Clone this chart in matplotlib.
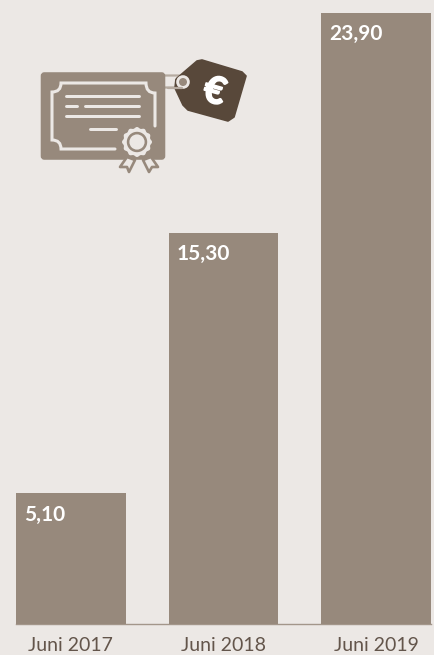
import numpy as np
import matplotlib
matplotlib.use("Agg")
import matplotlib.pyplot as plt
import matplotlib.patheffects as pe
from matplotlib.patches import Circle, FancyBboxPatch, PathPatch, Polygon
from matplotlib.path import Path

categories = ["Juni 2017", "Juni 2018", "Juni 2019"]
values = [5.10, 15.30, 23.90]
value_labels = ["5,10", "15,30", "23,90"]

BG = "#ece8e5"
BAR = "#97897c"
DARK = "#58483a"
TEXT = "#63554b"
STRING = "#b5aaa0"

plt.rcParams["font.family"] = ["Lato", "DejaVu Sans"]

W, H = 435, 655
fig = plt.figure(figsize=(W / 100, H / 100), dpi=100, facecolor=BG)

# bar area: 16..431 px wide, baseline near y=624, top bar reaches y=13
ax = fig.add_axes([16 / W, (H - 623.8) / H, 415 / W, 610.8 / H])
ax.set_facecolor("none")
x = np.arange(len(values))
ax.bar(x, values, width=0.72, color=BAR, linewidth=0, zorder=3)
ax.set_xlim(-0.36, 2.36)
ax.set_ylim(0, max(values))
for s in ["top", "left", "right"]:
    ax.spines[s].set_visible(False)
ax.spines["bottom"].set_color("#a3968a")
ax.spines["bottom"].set_linewidth(1.0)
ax.yaxis.set_visible(False)
ax.set_xticks(x, categories)
ax.tick_params(axis="x", length=0, pad=9.5, labelsize=14, labelcolor=TEXT)

for xi, v, lab in zip(x, values, value_labels):
    ax.annotate(lab, (xi - 0.36, v), xytext=(5.8, -8.2), textcoords="offset points",
                color="white", fontsize=15, fontweight="bold", ha="left", va="top", zorder=4)

# certificate + price tag icon, in pixel coordinates
ic = fig.add_axes([0, 0, 1, 1])
ic.set_xlim(0, W)
ic.set_ylim(H, 0)
ic.axis("off")
ic.patch.set_alpha(0)


def stroke(points, lw=3.0, color=BG):
    xs, ys = zip(*points)
    ic.plot(xs, ys, color=color, lw=lw * 0.72, solid_capstyle="round", solid_joinstyle="round")


# string loop between certificate and tag
ic.add_patch(FancyBboxPatch((160, 75.5), 22, 12, boxstyle="round,pad=0,rounding_size=4",
                            fc="none", ec=STRING, lw=1.6))

ic.add_patch(FancyBboxPatch((43.5, 75), 119, 82, boxstyle="round,pad=0,rounding_size=1",
                            mutation_aspect=1, fc=BAR, ec=BAR, lw=4))

# scalloped frame
frame = Path(
    [(155, 126), (155, 93), (146, 93), (146, 83), (61, 83), (61, 92), (52, 92),
     (52, 140), (61, 140), (61, 149), (115, 149)],
    [Path.MOVETO, Path.LINETO, Path.CURVE3, Path.CURVE3, Path.LINETO, Path.CURVE3, Path.CURVE3,
     Path.LINETO, Path.CURVE3, Path.CURVE3, Path.LINETO],
)
ic.add_patch(PathPatch(frame, fc="none", ec=BG, lw=2.2, capstyle="round"))

stroke([(66.5, 96), (139, 96)])
stroke([(66.5, 106), (77, 106)])
stroke([(85, 106), (139, 106)])
stroke([(66.5, 116), (139, 116)])
stroke([(90, 129), (116, 129)])

# ribbons under the seal
ic.add_patch(Polygon([(127, 157), (120, 167), (127, 167), (129, 172), (135, 160)], closed=True,
                     fc=BG, ec=BAR, lw=1.9, joinstyle="round"))
ic.add_patch(Polygon([(143, 160), (149, 172), (152, 167), (158, 167), (151, 157)], closed=True,
                     fc=BG, ec=BAR, lw=1.9, joinstyle="round"))

# seal: scalloped rim, tan ring, light centre
theta = np.linspace(0, 2 * np.pi, 240)
rim = 14.3 + 0.7 * np.cos(12 * theta)
ic.add_patch(Polygon(np.column_stack([137 + rim * np.cos(theta), 142 + rim * np.sin(theta)]),
                     closed=True, fc=BG, ec="none"))
ic.add_patch(Circle((137, 142), 10.2, fc=BAR, ec="none"))
ic.add_patch(Circle((137, 142), 7.6, fc=BG, ec="none"))

# price tag
tag = Path(
    [(176, 79), (197, 61), (202, 60), (242, 72), (246, 76), (234, 117), (228, 121),
     (188, 110), (183, 105), (175, 88), (176, 79)],
    [Path.MOVETO] + [Path.LINETO] * 10,
)
ic.add_patch(PathPatch(tag, fc=DARK, ec=DARK, lw=1.2, joinstyle="round"))
ic.add_patch(Circle((183, 82), 5.4, fc=BAR, ec=BG, lw=2.0))
ic.plot([168, 182], [87.5, 87.5], color=STRING, lw=1.6, solid_capstyle="round")
ic.text(214.5, 92, "€", color="white", fontsize=27, fontweight="bold", ha="center", va="center",
        rotation=-16, path_effects=[pe.withStroke(linewidth=1.2, foreground="white")])

fig.savefig("out.png", dpi=100, facecolor=BG)
